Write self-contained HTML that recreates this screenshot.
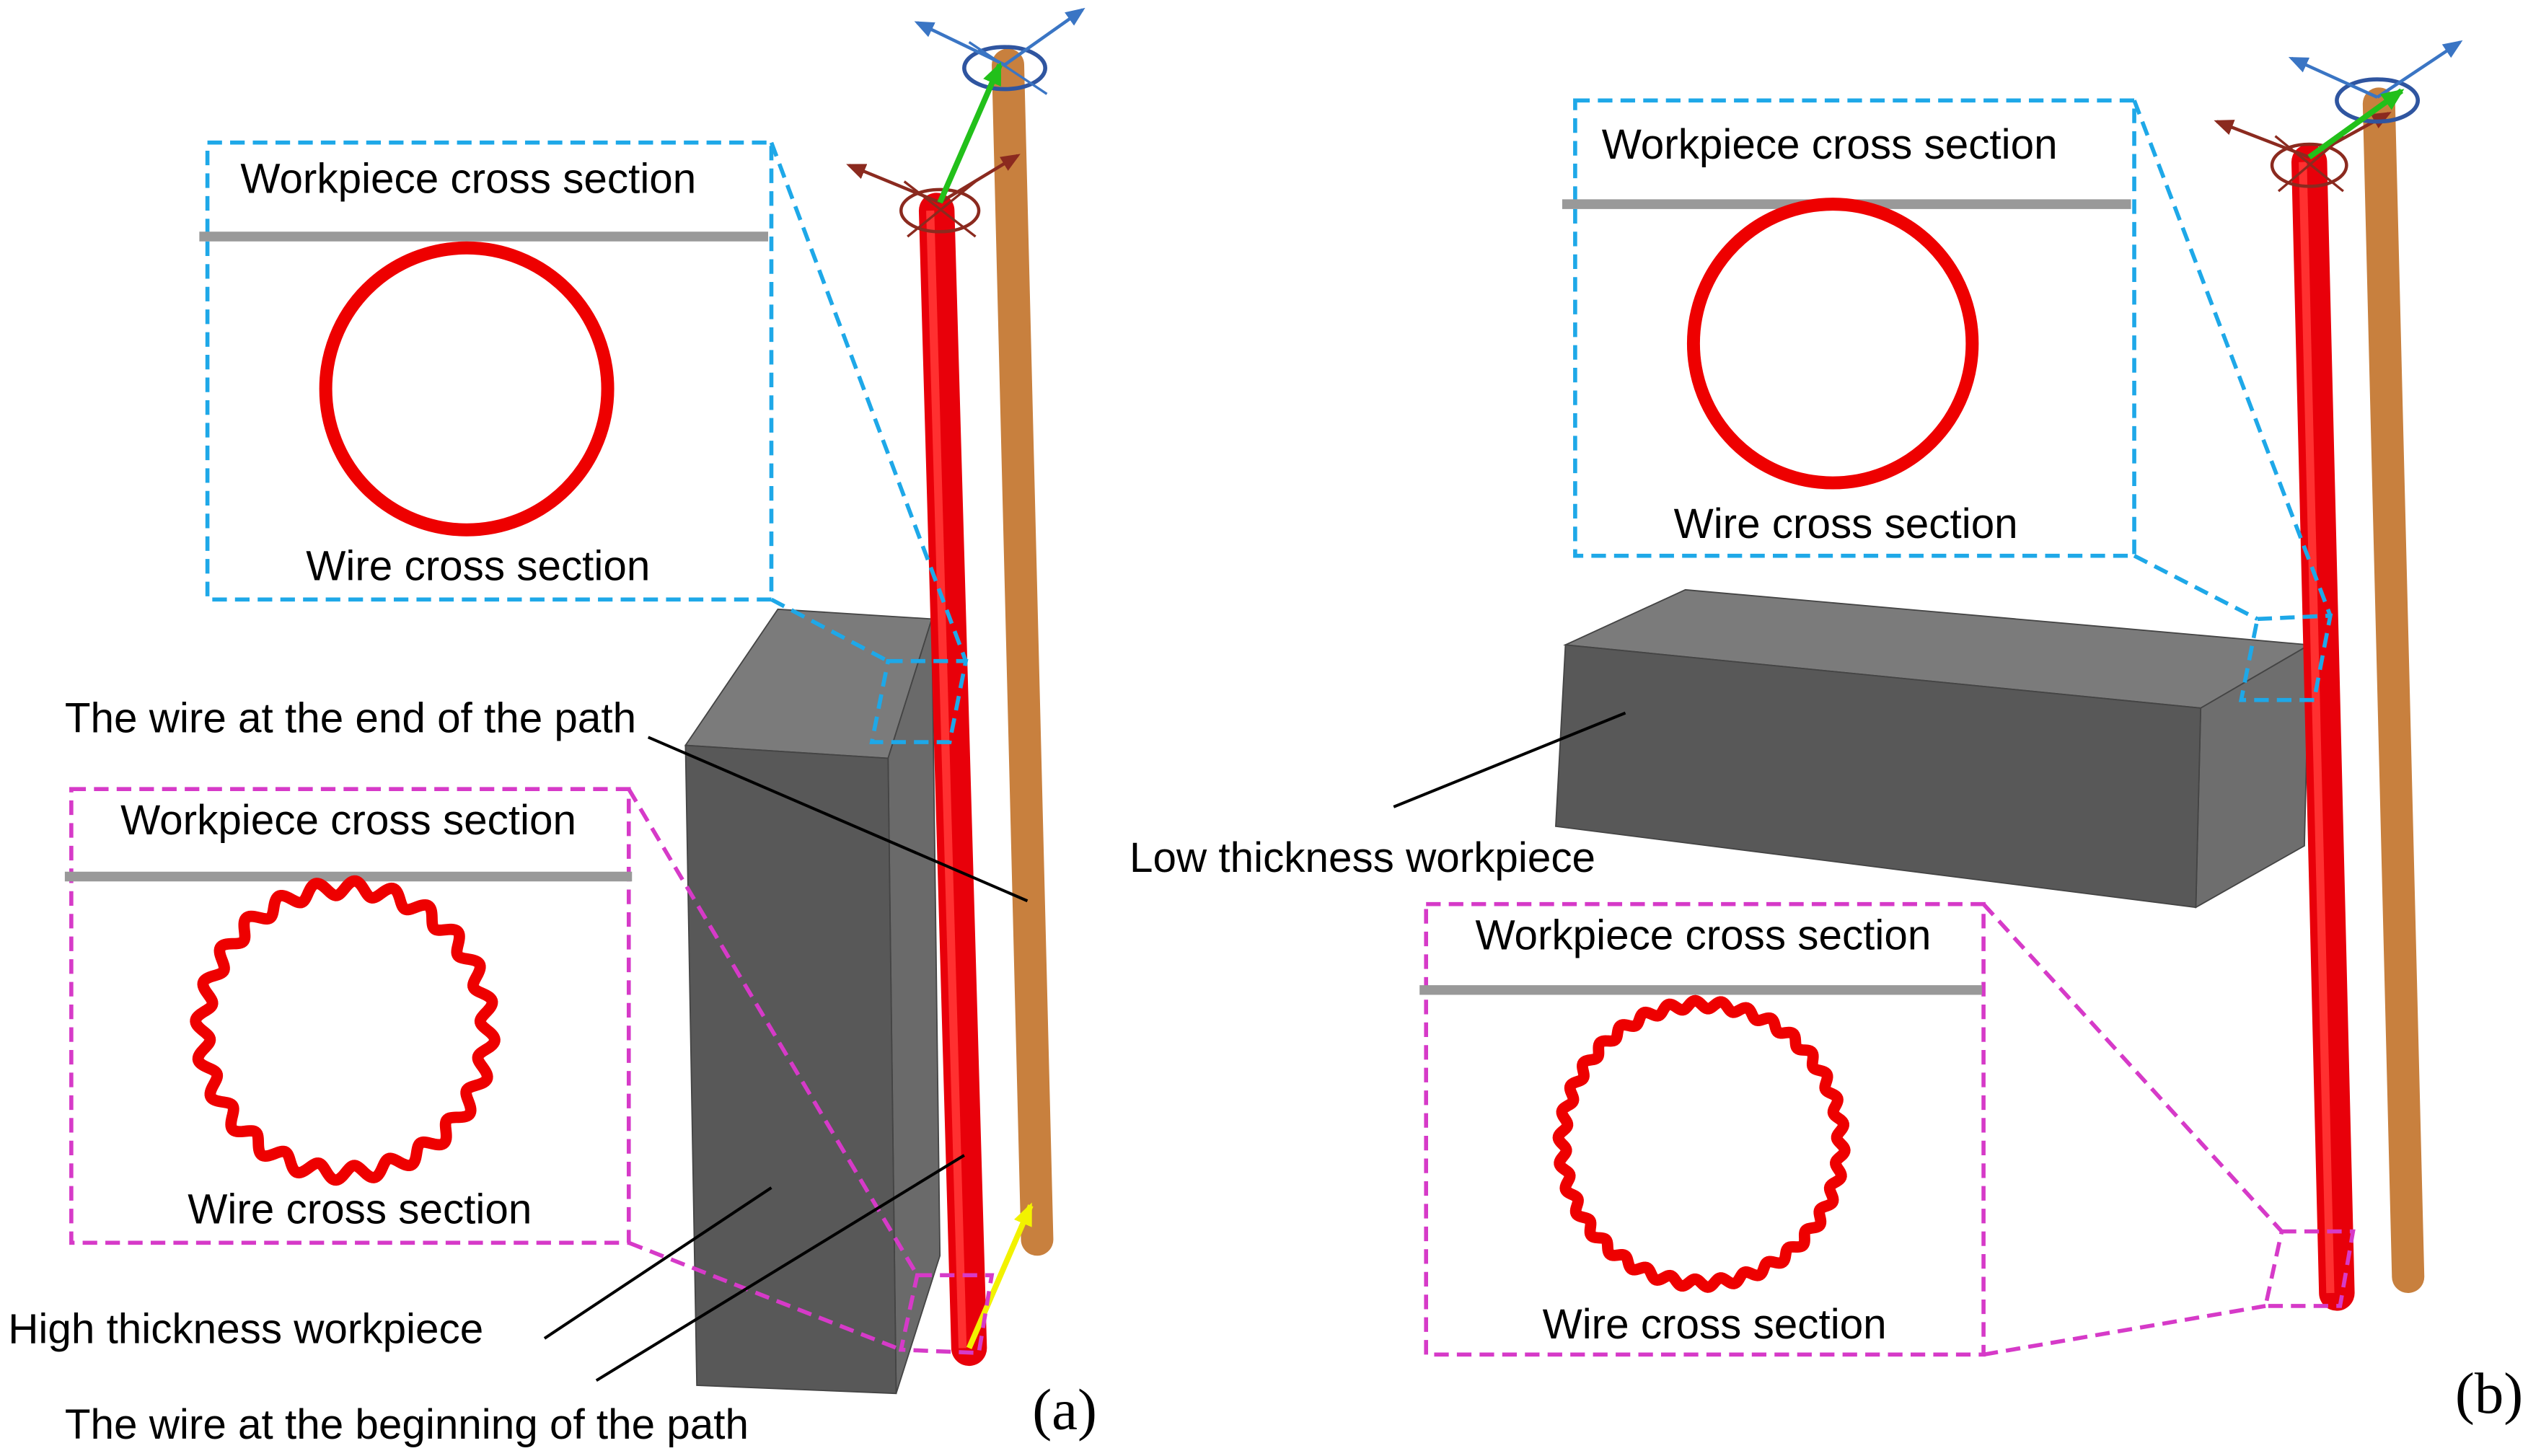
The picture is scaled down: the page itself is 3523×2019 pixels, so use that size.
<!DOCTYPE html>
<html><head><meta charset="utf-8"><style>
html,body{margin:0;padding:0;background:#fff;}
svg{display:block;}
text{font-family:"Liberation Sans",sans-serif;font-size:26px;fill:#000;}
</style></head><body>
<svg id="s" width="3523" height="2019" viewBox="0 0 1568 898.6" preserveAspectRatio="none" xmlns="http://www.w3.org/2000/svg">
<defs>
<marker id="ab" markerWidth="12" markerHeight="10" refX="10" refY="5" orient="auto" markerUnits="userSpaceOnUse"><path d="M0,0 L12,5 L0,10z" fill="#3a75c4"/></marker>
<marker id="ag" markerWidth="14" markerHeight="12" refX="12" refY="6" orient="auto" markerUnits="userSpaceOnUse"><path d="M0,0 L14,6 L0,12z" fill="#22c01a"/></marker>
<marker id="ay" markerWidth="14" markerHeight="12" refX="12" refY="6" orient="auto" markerUnits="userSpaceOnUse"><path d="M0,0 L14,6 L0,12z" fill="#f2f200"/></marker>
<marker id="am" markerWidth="12" markerHeight="10" refX="10" refY="5" orient="auto" markerUnits="userSpaceOnUse"><path d="M0,0 L12,5 L0,10z" fill="#8b2a1f"/></marker>
</defs>
<rect width="1568" height="899" fill="#fff"/>

<!-- ===== Panel (a) ===== -->
<polygon points="423,460 480,376 575,382 548,468" fill="#7b7b7b" stroke="#444" stroke-width="0.8"/>
<polygon points="548,468 575,382 580,775 553,860" fill="#6a6a6a" stroke="#444" stroke-width="0.8"/>
<polygon points="423,460 548,468 553,860 430,855" fill="#585858" stroke="#444" stroke-width="0.8"/>
<line x1="622" y1="40" x2="640" y2="765" stroke="#c8803e" stroke-width="20" stroke-linecap="round"/>
<line x1="578" y1="130" x2="598" y2="832" stroke="#e8000a" stroke-width="22" stroke-linecap="round"/>
<line x1="574" y1="130" x2="594" y2="832" stroke="#ff3030" stroke-width="5"/>
<ellipse cx="580" cy="130" rx="24" ry="13" fill="none" stroke="#8b2a1f" stroke-width="2"/>
<line x1="558" y1="112" x2="602" y2="146" stroke="#8b2a1f" stroke-width="1.5"/>
<line x1="602" y1="112" x2="560" y2="146" stroke="#8b2a1f" stroke-width="1.5"/>
<line x1="580" y1="125" x2="524" y2="102" stroke="#8b2a1f" stroke-width="2" marker-end="url(#am)"/>
<line x1="580" y1="125" x2="628" y2="96" stroke="#8b2a1f" stroke-width="2" marker-end="url(#am)"/>
<ellipse cx="620" cy="42" rx="25" ry="13" fill="none" stroke="#2f55a0" stroke-width="2.5"/>
<line x1="598" y1="26" x2="646" y2="58" stroke="#3a75c4" stroke-width="1.5"/>
<line x1="620" y1="40" x2="566" y2="14" stroke="#3a75c4" stroke-width="2" marker-end="url(#ab)"/>
<line x1="620" y1="40" x2="668" y2="6" stroke="#3a75c4" stroke-width="2" marker-end="url(#ab)"/>
<line x1="580" y1="125" x2="617" y2="40" stroke="#22c01a" stroke-width="3.5" marker-end="url(#ag)"/>
<line x1="598" y1="832" x2="636" y2="744" stroke="#f2f200" stroke-width="3.5" marker-end="url(#ay)"/>

<g fill="none" stroke="#1ea8e8" stroke-width="2.5" stroke-dasharray="9,5">
<rect x="128" y="88" width="348" height="282"/>
<line x1="476" y1="88" x2="596" y2="408"/>
<line x1="476" y1="370" x2="548" y2="408"/>
<polygon points="548,408 596,408 586,458 538,458"/>
</g>
<line x1="123" y1="146" x2="474" y2="146" stroke="#999" stroke-width="6"/>
<circle cx="288" cy="240" r="87" fill="none" stroke="#ee0000" stroke-width="8"/>
<text x="289" y="119" text-anchor="middle">Workpiece cross section</text>
<text x="295" y="358" text-anchor="middle">Wire cross section</text>

<g fill="none" stroke="#d63ac8" stroke-width="2.5" stroke-dasharray="9,5">
<rect x="44" y="487" width="344" height="280"/>
<line x1="388" y1="487" x2="566" y2="787"/>
<line x1="388" y1="767" x2="556" y2="833"/>
<polygon points="566,787 612,787 604,835 556,833"/>
</g>
<line x1="40" y1="541" x2="390" y2="541" stroke="#999" stroke-width="6"/>
<path class="wavy" data-cx="213" data-cy="636" data-r="88" data-a="4.5" data-n="24" fill="none" stroke="#ee0000" stroke-width="7"/>
<text x="215" y="515" text-anchor="middle">Workpiece cross section</text>
<text x="222" y="755" text-anchor="middle">Wire cross section</text>

<text x="40" y="452">The wire at the end of the path</text>
<line x1="400" y1="455" x2="634" y2="556" stroke="#000" stroke-width="1.8"/>
<text x="5" y="829">High thickness workpiece</text>
<line x1="336" y1="826" x2="476" y2="733" stroke="#000" stroke-width="1.8"/>
<text x="40" y="888">The wire at the beginning of the path</text>
<line x1="368" y1="852" x2="595" y2="713" stroke="#000" stroke-width="1.8"/>
<text x="637" y="882" style="font-family:'Liberation Serif',serif;font-size:36px">(a)</text>

<!-- ===== Panel (b) ===== -->
<polygon points="966,398 1040,364 1425,398 1358,437" fill="#7b7b7b" stroke="#444" stroke-width="0.8"/>
<polygon points="1358,437 1425,398 1422,522 1355,560" fill="#6e6e6e" stroke="#444" stroke-width="0.8"/>
<polygon points="966,398 1358,437 1355,560 960,510" fill="#585858" stroke="#444" stroke-width="0.8"/>
<line x1="1468" y1="64" x2="1486" y2="788" stroke="#c8803e" stroke-width="20" stroke-linecap="round"/>
<line x1="1425" y1="100" x2="1442" y2="798" stroke="#e8000a" stroke-width="22" stroke-linecap="round"/>
<line x1="1421" y1="100" x2="1438" y2="798" stroke="#ff3030" stroke-width="5"/>
<ellipse cx="1425" cy="102" rx="23" ry="13" fill="none" stroke="#8b2a1f" stroke-width="2"/>
<line x1="1404" y1="84" x2="1446" y2="118" stroke="#8b2a1f" stroke-width="1.5"/>
<line x1="1446" y1="84" x2="1406" y2="118" stroke="#8b2a1f" stroke-width="1.5"/>
<line x1="1425" y1="97" x2="1368" y2="75" stroke="#8b2a1f" stroke-width="2" marker-end="url(#am)"/>
<line x1="1425" y1="97" x2="1474" y2="70" stroke="#8b2a1f" stroke-width="2" marker-end="url(#am)"/>
<ellipse cx="1467" cy="62" rx="25" ry="13" fill="none" stroke="#2f55a0" stroke-width="2.5"/>
<line x1="1467" y1="60" x2="1414" y2="36" stroke="#3a75c4" stroke-width="2" marker-end="url(#ab)"/>
<line x1="1467" y1="60" x2="1518" y2="26" stroke="#3a75c4" stroke-width="2" marker-end="url(#ab)"/>
<line x1="1425" y1="97" x2="1482" y2="56" stroke="#22c01a" stroke-width="3.5" marker-end="url(#ag)"/>

<g fill="none" stroke="#1ea8e8" stroke-width="2.5" stroke-dasharray="9,5">
<rect x="972" y="62" width="345" height="281"/>
<line x1="1317" y1="62" x2="1438" y2="380"/>
<line x1="1317" y1="343" x2="1393" y2="382"/>
<polygon points="1393,382 1438,380 1428,432 1383,432"/>
</g>
<line x1="964" y1="126" x2="1315" y2="126" stroke="#999" stroke-width="6"/>
<circle cx="1131" cy="212" r="86" fill="none" stroke="#ee0000" stroke-width="8"/>
<text x="1129" y="98" text-anchor="middle">Workpiece cross section</text>
<text x="1139" y="332" text-anchor="middle">Wire cross section</text>

<g fill="none" stroke="#d63ac8" stroke-width="2.5" stroke-dasharray="9,5">
<rect x="880" y="558" width="344" height="278"/>
<line x1="1224" y1="558" x2="1408" y2="760"/>
<line x1="1224" y1="836" x2="1398" y2="806"/>
<polygon points="1408,760 1452,760 1444,806 1398,806"/>
</g>
<line x1="876" y1="611" x2="1223" y2="611" stroke="#999" stroke-width="6"/>
<path class="wavy" data-cx="1050" data-cy="706" data-r="86" data-a="2.5" data-n="34" fill="none" stroke="#ee0000" stroke-width="7"/>
<text x="1051" y="586" text-anchor="middle">Workpiece cross section</text>
<text x="1058" y="826" text-anchor="middle">Wire cross section</text>

<text x="697" y="538">Low thickness workpiece</text>
<line x1="860" y1="498" x2="1003" y2="440" stroke="#000" stroke-width="1.8"/>
<text x="1515" y="872" style="font-family:'Liberation Serif',serif;font-size:36px">(b)</text>
</svg>
<script>
document.querySelectorAll('.wavy').forEach(function(p){
 var cx=+p.dataset.cx,cy=+p.dataset.cy,r=+p.dataset.r,a=+(p.dataset.a||5),n=+(p.dataset.n||22),d='';
 for(var i=0;i<=720;i++){var t=i/720*2*Math.PI,rr=r+a*Math.sin(n*t);
  d+=(i?'L':'M')+(cx+rr*Math.cos(t)).toFixed(2)+','+(cy+rr*Math.sin(t)).toFixed(2);}
 p.setAttribute('d',d+'Z');
});
</script>
</body></html>
